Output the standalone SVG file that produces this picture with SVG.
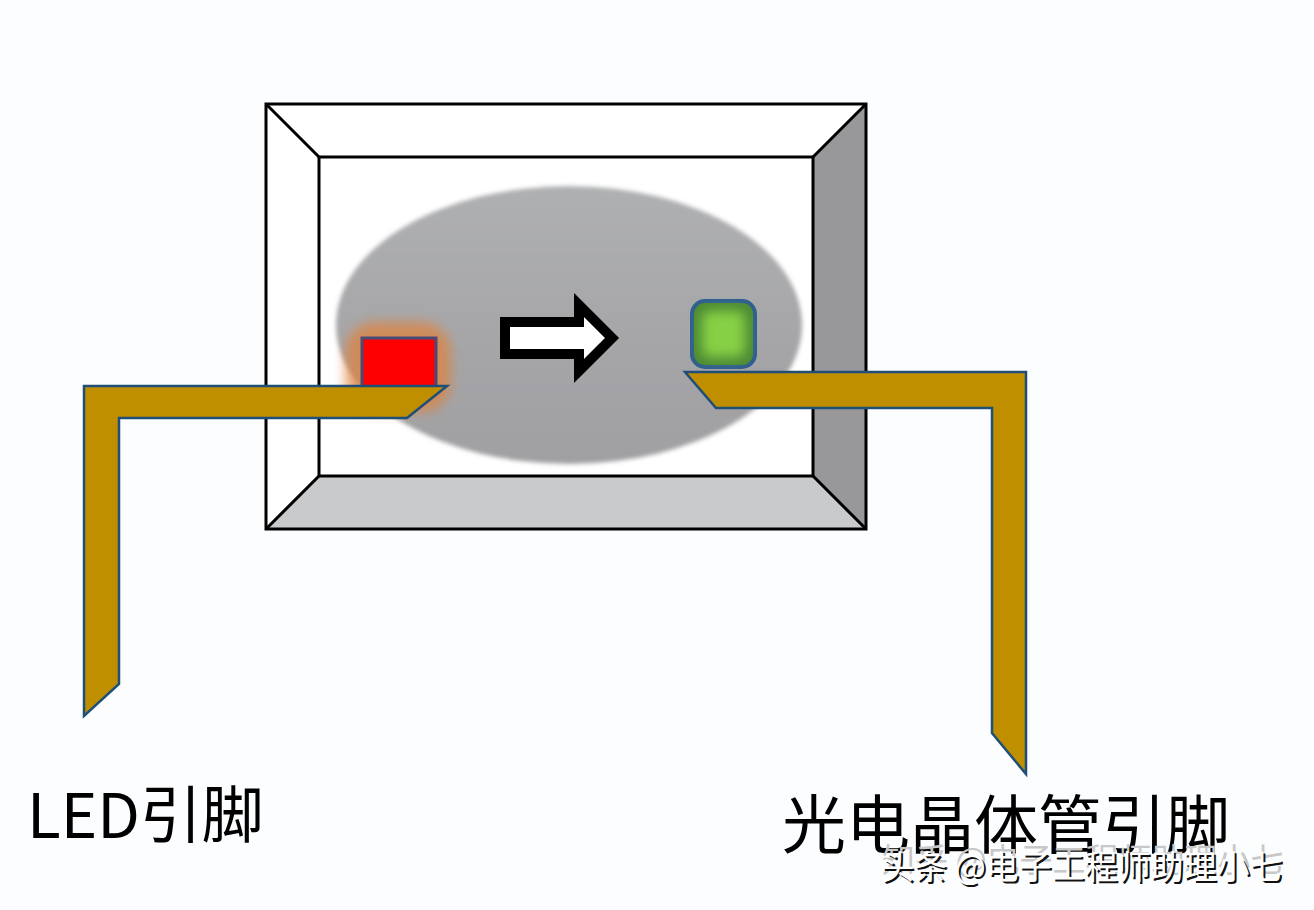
<svg xmlns="http://www.w3.org/2000/svg" width="1314" height="910" viewBox="0 0 1314 910">
<style>
.frame{stroke:#000;stroke-width:3;stroke-linejoin:miter}
.lead{fill:#bf8f00;stroke:#1f4e79;stroke-width:2.5;stroke-linejoin:miter}
.cjk{font-family:"Noto Sans CJK SC","Liberation Sans",sans-serif}
.wm{font-size:33px}
</style>
<defs>
<filter id="b1" x="-10%" y="-10%" width="120%" height="120%"><feGaussianBlur stdDeviation="2"/></filter>
<filter id="b2" x="-40%" y="-40%" width="180%" height="180%"><feGaussianBlur stdDeviation="6"/></filter>
<filter id="b3" x="-30%" y="-30%" width="160%" height="160%"><feGaussianBlur stdDeviation="6"/></filter>
<linearGradient id="dome" x1="0" y1="0" x2="0" y2="1"><stop offset="0" stop-color="#afb0b2"/><stop offset="0.55" stop-color="#a6a6a9"/><stop offset="1" stop-color="#a0a0a3"/></linearGradient>
</defs>
<rect width="1314" height="910" fill="#fcfdfe"/>
<g id="package">
<rect x="266" y="104" width="600" height="425" fill="#fff"/>
<polygon points="813,157 866,104 866,529 813,476" fill="#98989a"/>
<polygon points="319,476 813,476 866,529 266,529" fill="#c9cacc"/>
<rect class="frame" x="266" y="104" width="600" height="425" fill="none"/>
<rect class="frame" x="319" y="157" width="494" height="319" fill="#fff"/>
<path class="frame" d="M266 104L319 157M866 104L813 157M266 529L319 476M866 529L813 476" fill="none"/>
</g>
<g id="dome">
<ellipse cx="569" cy="325" rx="233" ry="139" fill="url(#dome)" filter="url(#b1)"/>
</g>
<g id="led">
<rect x="345" y="322" width="106" height="90" rx="30" fill="#e0813a" opacity="0.72" filter="url(#b2)"/>
<rect x="362" y="338" width="74" height="49" fill="#fe0000" stroke="#4a4a78" stroke-width="3"/>
</g>
<g id="phototransistor">
<rect x="692" y="301" width="63" height="66" rx="13" fill="#4e8a34" stroke="#2f5f8f" stroke-width="4"/>
<rect x="702" y="311" width="43" height="46" rx="8" fill="#86d044" filter="url(#b3)"/>
</g>
<g id="arrow">
<polygon points="505,322 579,322 579,305 612,338 579,371 579,354 505,354" fill="#fff" stroke="#000" stroke-width="10"/>
</g>
<g id="connectors">
<polygon id="led-lead" class="lead" points="84,386 447,386 407,418 119,418 119,684 84,716"/>
<polygon id="photo-lead" class="lead" points="685,372 1026,372 1026,774 992,733 992,408 716,408"/>
</g>
<g id="labels">
<text id="led-label" class="cjk" x="27" y="838" font-size="62" fill="#000">LED引脚</text>
<text id="photo-label" class="cjk" x="782" y="848" font-size="64" fill="#000">光电晶体管引脚</text>
<g id="watermark" class="cjk">
<text class="wm" x="882" y="872" fill="#c8c8c8">知乎 @电子工程师助理小七</text>
<text class="wm" x="883" y="881" fill="#111">头条 @电子工程师助理小七</text>
<text class="wm" x="881" y="879" fill="#fff">头条 @电子工程师助理小七</text>
</g>
</g>
</svg>
